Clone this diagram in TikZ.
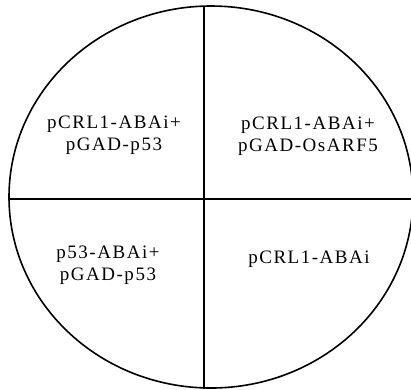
\documentclass[tikz,border=0pt]{standalone}
\usepackage{fontspec}
\setmainfont{Liberation Serif}[LetterSpace=8]
\begin{document}
\begin{tikzpicture}[x=1pt,y=-1pt,
  plate/.style={line width=1.6pt},
  label/.style={align=center,inner sep=0pt,font=\fontsize{19}{22}\selectfont}]
  \useasboundingbox (0,0) rectangle (411,389);
  \clip (0,0) rectangle (411,389);
  % plate outline and the quadrant dividers
  \draw[plate] (211,197) ellipse [x radius=202, y radius=191];
  \draw[plate] (204,6) -- (204,389);
  \draw[plate] (9,199) -- (411,199);
  % strain labels
  \node[label] (tl) at (114,135) {pCRL1-ABAi+\\pGAD-p53};
  \node[label] (tr) at (308,136) {pCRL1-ABAi+\\pGAD-OsARF5};
  \node[label] (bl) at (108,265) {p53-ABAi+\\pGAD-p53};
  \node[label] (br) at (309,259) {pCRL1-ABAi};
\end{tikzpicture}
\end{document}
